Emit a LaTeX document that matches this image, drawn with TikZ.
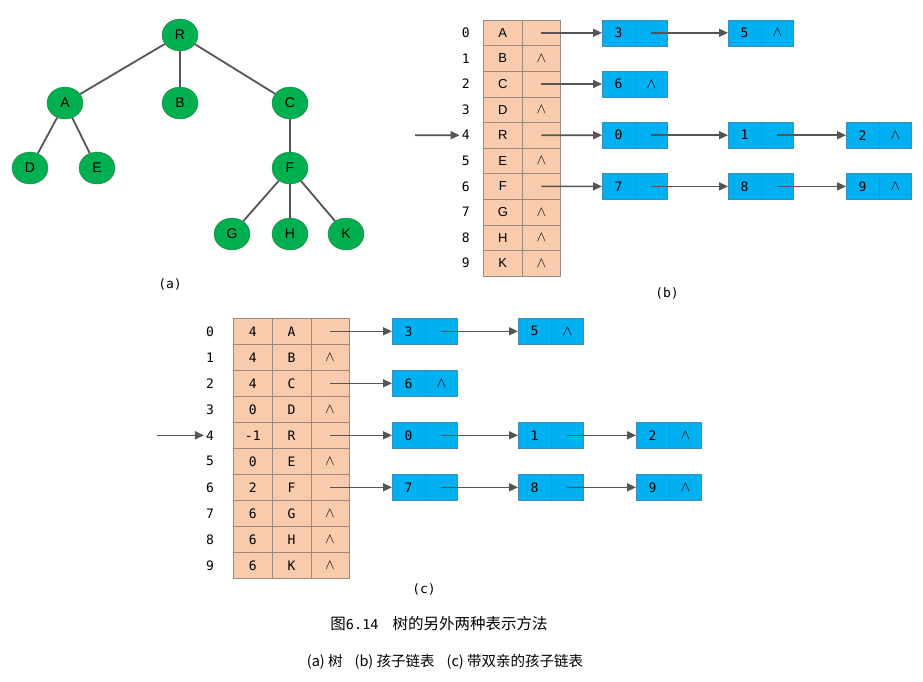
\documentclass[tikz,border=0pt]{standalone}
\usepackage{fontspec}
\setmainfont{Liberation Sans}
\setmonofont{DejaVu Sans Mono}
\newfontfamily\cjk{Noto Sans CJK SC}
\usetikzlibrary{arrows.meta,shapes.geometric}

\definecolor{treegreen}{HTML}{00B050}
\definecolor{treeline}{HTML}{2F7D4A}
\definecolor{edgegray}{HTML}{555555}
\definecolor{cellorange}{HTML}{F8CBAD}
\definecolor{cellline}{HTML}{9C8A7E}
\definecolor{listblue}{HTML}{00B0F0}
\definecolor{listline}{HTML}{3A8DBD}

\newcommand{\tailmark}{{\fontsize{15}{15}\selectfont$\wedge$}}
\newcommand{\listnode}[5]{
    \node[lcell, anchor=west] (#1) at (#2,#3) {#4};
    \node[lcell, anchor=west] (#1p) at (#1.east) {#5};
}

\tikzset{x=1pt, y=-1pt,
    vertex/.style={ellipse, draw=treeline, fill=treegreen, minimum width=36pt,
        minimum height=32pt, inner sep=0pt, font=\fontsize{14}{14}\selectfont},
    branch/.style={draw=edgegray, line width=1.8pt},
    cell/.style={draw=cellline, fill=cellorange, minimum height=25.6pt, inner sep=0pt,
        font=\ttfamily\fontsize{13}{13}\selectfont},
    lcell/.style={draw=listline, fill=listblue, minimum width=32.5pt, minimum height=26pt,
        inner sep=0pt, font=\ttfamily\fontsize{13}{13}\selectfont},
    idx/.style={inner sep=2pt, font=\ttfamily\fontsize{13}{13}\selectfont},
    link/.style={draw=edgegray, line width=1.6pt, -{Triangle[length=9pt,width=8pt]}},
    tag/.style={font=\ttfamily\fontsize{13}{13}\selectfont}
}

\begin{document}
\begin{tikzpicture}
    \fill[white] (0,0) rectangle (923,681);
    \useasboundingbox (0,0) rectangle (923,681);

    % (a) the tree
    \node[vertex] (R) at (180,35) {R};
    \node[vertex] (A) at (65,103) {A};
    \node[vertex] (B) at (180,103) {B};
    \node[vertex] (C) at (290,103) {C};
    \node[vertex] (D) at (30,168) {D};
    \node[vertex] (E) at (97,168) {E};
    \node[vertex] (F) at (290,168) {F};
    \node[vertex] (G) at (232,234) {G};
    \node[vertex] (H) at (290,234) {H};
    \node[vertex] (K) at (346,234) {K};
    \foreach \u/\v in {R/A,R/B,R/C,A/D,A/E,C/F,F/G,F/H,F/K}
        \draw[branch] (\u) -- (\v);
    \node[tag] (capa) at (170,284) {(a)};

    % (b) child lists
    \foreach \v/\p [count=\i from 0] in {A/{},B/\tailmark,C/{},D/\tailmark,R/{},
            E/\tailmark,F/{},G/\tailmark,H/\tailmark,K/\tailmark} {
        \node[cell, minimum width=39pt, font=\fontsize{13}{13}\selectfont] (bd\i) at (502.8,32.8+25.6*\i) {\v};
        \node[cell, minimum width=38pt] (bp\i) at (541.3,32.8+25.6*\i) {\p};
        \node[idx] (bi\i) at (465.7,32.8+25.6*\i) {\i};
    }
    \coordinate (bin) at (415,135.2);
    \draw[link] (bin) -- (bi4.west);
    \listnode{b3}{602}{32.8}{3}{}
    \listnode{b5}{728}{32.8}{5}{\tailmark}
    \listnode{b6}{602}{84}{6}{\tailmark}
    \listnode{b0}{602}{135.2}{0}{}
    \listnode{b1}{728}{135.2}{1}{}
    \listnode{b2}{846}{135.2}{2}{\tailmark}
    \listnode{b7}{602}{186.4}{7}{}
    \listnode{b8}{728}{186.4}{8}{}
    \listnode{b9}{846}{186.4}{9}{\tailmark}
    \foreach \u/\v in {bp0/b3,b3p/b5,bp2/b6,bp4/b0,b0p/b1,b1p/b2,bp6/b7,b7p/b8,b8p/b9}
        \draw[link] (\u.center) -- (\v.west);
    \node[tag] (capb) at (667,293) {(b)};

    % (c) child lists with parent
    \foreach \f/\v/\p [count=\i from 0] in {4/A/{},4/B/\tailmark,4/C/{},0/D/\tailmark,
            -1/R/{},0/E/\tailmark,2/F/{},6/G/\tailmark,6/H/\tailmark,6/K/\tailmark} {
        \node[cell, minimum width=39pt, minimum height=26pt] (cf\i) at (252.8,331.3+26*\i) {\f};
        \node[cell, minimum width=38.4pt, minimum height=26pt] (cd\i) at (291.5,331.3+26*\i) {\v};
        \node[cell, minimum width=38.6pt, minimum height=26pt] (cp\i) at (330,331.3+26*\i) {\p};
        \node[idx] (ci\i) at (210,331.3+26*\i) {\i};
    }
    \coordinate (cin) at (157,435.3);
    \draw[link] (cin) -- (ci4.west);
    \listnode{c3}{392}{331.3}{3}{}
    \listnode{c5}{518}{331.3}{5}{\tailmark}
    \listnode{c6}{392}{383.3}{6}{\tailmark}
    \listnode{c0}{392}{435.3}{0}{}
    \listnode{c1}{518}{435.3}{1}{}
    \listnode{c2}{636}{435.3}{2}{\tailmark}
    \listnode{c7}{392}{487.3}{7}{}
    \listnode{c8}{518}{487.3}{8}{}
    \listnode{c9}{636}{487.3}{9}{\tailmark}
    \foreach \u/\v in {cp0/c3,c3p/c5,cp2/c6,cp4/c0,c0p/c1,c1p/c2,cp6/c7,c7p/c8,c8p/c9}
        \draw[link] (\u.center) -- (\v.west);
    \node[tag] (capc) at (424,589) {(c)};

    % captions
    \node[font=\cjk\fontsize{15.5}{15.5}\selectfont] (title) at (439,624)
        {图{\ttfamily\fontsize{13.5}{13.5}\selectfont 6.14}\hspace{14pt}树的另外两种表示方法};
    \node[font=\cjk\fontsize{14.5}{14.5}\selectfont] (legend) at (445,662)
        {(a) 树\hspace{12pt}(b) 孩子链表\hspace{12pt}(c) 带双亲的孩子链表};
\end{tikzpicture}
\end{document}
